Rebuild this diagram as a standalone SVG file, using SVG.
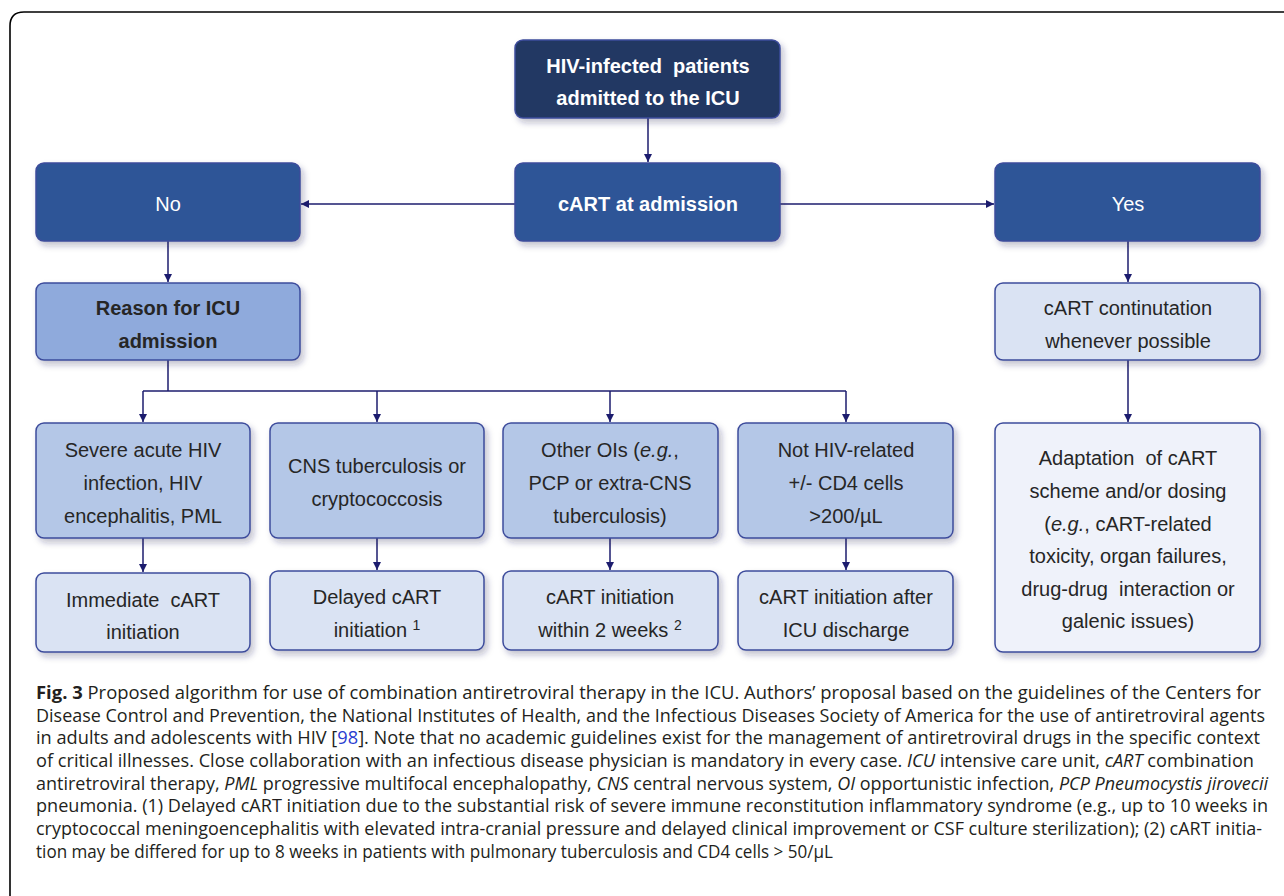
<svg xmlns="http://www.w3.org/2000/svg" width="1284" height="896" viewBox="0 0 1284 896">
<defs>
<filter id="sh" x="-10%" y="-10%" width="130%" height="140%">
<feDropShadow dx="3" dy="4" stdDeviation="3" flood-color="#1a2550" flood-opacity="0.28"/>
</filter>
<marker id="ah" viewBox="0 0 10 10" refX="10" refY="5" markerWidth="8" markerHeight="8" markerUnits="userSpaceOnUse" orient="auto">
<path d="M0,0 L10,5 L0,10 z" fill="#1c1c6e"/>
</marker>
<style>
.box{stroke:#3d4c9c;stroke-width:1.5;filter:url(#sh)}
.navy{fill:#203864}
.mid{fill:#2f5597}
.l1{fill:#8faadc}
.l2{fill:#b4c7e7}
.l3{fill:#dae3f3}
.l4{fill:#eff2fa}
.t{font-family:"Liberation Sans",Arial,sans-serif;font-size:20px;text-anchor:middle;fill:#262626}
.p{white-space:pre}
.w{fill:#ffffff}
.b{font-weight:bold}
.c{stroke:#1c1c6e;stroke-width:1.5;fill:none}
.cap{font-family:"Open Sans","Noto Sans",sans-serif;font-size:18px;fill:#231f20}
</style>
</defs>
<rect width="1284" height="896" fill="#ffffff"/>
<path d="M10,896 V26 Q10,12 24,12 H1284" fill="none" stroke="#000" stroke-width="1.6"/>

<g id="connectors">
<line class="c" x1="648" y1="118" x2="648" y2="162" marker-end="url(#ah)"/>
<line class="c" x1="515" y1="204" x2="301" y2="204" marker-end="url(#ah)"/>
<line class="c" x1="780" y1="204" x2="994" y2="204" marker-end="url(#ah)"/>
<line class="c" x1="168" y1="241" x2="168" y2="282" marker-end="url(#ah)"/>
<line class="c" x1="1128" y1="241" x2="1128" y2="282" marker-end="url(#ah)"/>
<line class="c" x1="1128" y1="360" x2="1128" y2="422" marker-end="url(#ah)"/>
<polyline class="c" points="168,360 168,391"/>
<line class="c" x1="143" y1="391" x2="846" y2="391"/>
<line class="c" x1="143" y1="391" x2="143" y2="422" marker-end="url(#ah)"/>
<line class="c" x1="377" y1="391" x2="377" y2="422" marker-end="url(#ah)"/>
<line class="c" x1="610" y1="391" x2="610" y2="422" marker-end="url(#ah)"/>
<line class="c" x1="846" y1="391" x2="846" y2="422" marker-end="url(#ah)"/>
<line class="c" x1="143" y1="538" x2="143" y2="572" marker-end="url(#ah)"/>
<line class="c" x1="377" y1="538" x2="377" y2="570" marker-end="url(#ah)"/>
<line class="c" x1="610" y1="538" x2="610" y2="570" marker-end="url(#ah)"/>
<line class="c" x1="846" y1="538" x2="846" y2="570" marker-end="url(#ah)"/>
</g>

<g id="n-top">
<rect class="box navy" x="515" y="40" width="265" height="78" rx="8"/>
<text class="t w b p" x="648" y="73">HIV-infected  patients</text>
<text class="t w b" x="648" y="105">admitted to the ICU</text>
</g>
<g id="n-cart">
<rect class="box mid" x="515" y="163" width="265" height="78" rx="8"/>
<text class="t w b" x="648" y="211">cART at admission</text>
</g>
<g id="n-no">
<rect class="box mid" x="36" y="163" width="264" height="78" rx="8"/>
<text class="t w" x="168" y="211">No</text>
</g>
<g id="n-yes">
<rect class="box mid" x="995" y="163" width="265" height="78" rx="8"/>
<text class="t w" x="1128" y="211">Yes</text>
</g>
<g id="n-reason">
<rect class="box l1" x="36" y="283" width="264" height="77" rx="8"/>
<text class="t b" x="168" y="315">Reason for ICU</text>
<text class="t b" x="168" y="348">admission</text>
</g>
<g id="n-cont">
<rect class="box l3" x="995" y="283" width="265" height="77" rx="8"/>
<text class="t" x="1128" y="315">cART continutation</text>
<text class="t" x="1128" y="348">whenever possible</text>
</g>
<g id="n-severe">
<rect class="box l2" x="36" y="423" width="214" height="115" rx="8"/>
<text class="t" x="143" y="457">Severe acute HIV</text>
<text class="t" x="143" y="490">infection, HIV</text>
<text class="t" x="143" y="523">encephalitis, PML</text>
</g>
<g id="n-cns">
<rect class="box l2" x="270" y="423" width="214" height="115" rx="8"/>
<text class="t" x="377" y="473">CNS tuberculosis or</text>
<text class="t" x="377" y="506">cryptococcosis</text>
</g>
<g id="n-ois">
<rect class="box l2" x="503" y="423" width="215" height="115" rx="8"/>
<text class="t" x="610" y="457">Other OIs (<tspan font-style="italic">e.g.</tspan>,</text>
<text class="t" x="610" y="490">PCP or extra-CNS</text>
<text class="t" x="610" y="523">tuberculosis)</text>
</g>
<g id="n-nothiv">
<rect class="box l2" x="738" y="423" width="215" height="115" rx="8"/>
<text class="t" x="846" y="457">Not HIV-related</text>
<text class="t" x="846" y="490">+/- CD4 cells</text>
<text class="t" x="846" y="523">&gt;200/µL</text>
</g>
<g id="n-immediate">
<rect class="box l3" x="36" y="573" width="214" height="79" rx="8"/>
<text class="t p" x="143" y="607">Immediate  cART</text>
<text class="t" x="143" y="639">initiation</text>
</g>
<g id="n-delayed">
<rect class="box l3" x="270" y="571" width="214" height="79" rx="8"/>
<text class="t" x="377" y="604">Delayed cART</text>
<text class="t" x="377" y="637">initiation <tspan font-size="14" dy="-7">1</tspan></text>
</g>
<g id="n-within">
<rect class="box l3" x="503" y="571" width="215" height="79" rx="8"/>
<text class="t" x="610" y="604">cART initiation</text>
<text class="t" x="610" y="637">within 2 weeks <tspan font-size="14" dy="-7">2</tspan></text>
</g>
<g id="n-after">
<rect class="box l3" x="738" y="571" width="215" height="79" rx="8"/>
<text class="t" x="846" y="604">cART initiation after</text>
<text class="t" x="846" y="637">ICU discharge</text>
</g>
<g id="n-adapt">
<rect class="box l4" x="995" y="423" width="265" height="229" rx="8"/>
<text class="t p" x="1128" y="465">Adaptation  of cART</text>
<text class="t" x="1128" y="498">scheme and/or dosing</text>
<text class="t" x="1128" y="531">(<tspan font-style="italic">e.g.</tspan>, cART-related</text>
<text class="t" x="1128" y="563">toxicity, organ failures,</text>
<text class="t p" x="1128" y="596">drug-drug  interaction or</text>
<text class="t" x="1128" y="628">galenic issues)</text>
</g>

<g id="caption" class="cap">
<text x="36" y="699" textLength="1225" lengthAdjust="spacingAndGlyphs"><tspan font-weight="bold">Fig. 3</tspan>  Proposed algorithm for use of combination antiretroviral therapy in the ICU. Authors’ proposal based on the guidelines of the Centers for</text>
<text x="36" y="722" textLength="1229" lengthAdjust="spacingAndGlyphs">Disease Control and Prevention, the National Institutes of Health, and the Infectious Diseases Society of America for the use of antiretroviral agents</text>
<text x="36" y="744" textLength="1224" lengthAdjust="spacingAndGlyphs">in adults and adolescents with HIV [<tspan fill="#2a3cd0">98</tspan>]. Note that no academic guidelines exist for the management of antiretroviral drugs in the specific context</text>
<text x="36" y="767" textLength="1218" lengthAdjust="spacingAndGlyphs">of critical illnesses. Close collaboration with an infectious disease physician is mandatory in every case. <tspan font-style="italic">ICU</tspan> intensive care unit, <tspan font-style="italic">cART</tspan> combination</text>
<text x="36" y="790" textLength="1232" lengthAdjust="spacingAndGlyphs">antiretroviral therapy, <tspan font-style="italic">PML</tspan> progressive multifocal encephalopathy, <tspan font-style="italic">CNS</tspan> central nervous system, <tspan font-style="italic">OI</tspan> opportunistic infection, <tspan font-style="italic">PCP Pneumocystis jirovecii</tspan></text>
<text x="36" y="812" textLength="1232" lengthAdjust="spacingAndGlyphs">pneumonia. (1) Delayed cART initiation due to the substantial risk of severe immune reconstitution inflammatory syndrome (e.g., up to 10 weeks in</text>
<text x="36" y="835" textLength="1226" lengthAdjust="spacingAndGlyphs">cryptococcal meningoencephalitis with elevated intra-cranial pressure and delayed clinical improvement or CSF culture sterilization); (2) cART initia-</text>
<text x="36" y="858" textLength="797" lengthAdjust="spacingAndGlyphs">tion may be differed for up to 8 weeks in patients with pulmonary tuberculosis and CD4 cells &gt; 50/µL</text>
</g>
</svg>
